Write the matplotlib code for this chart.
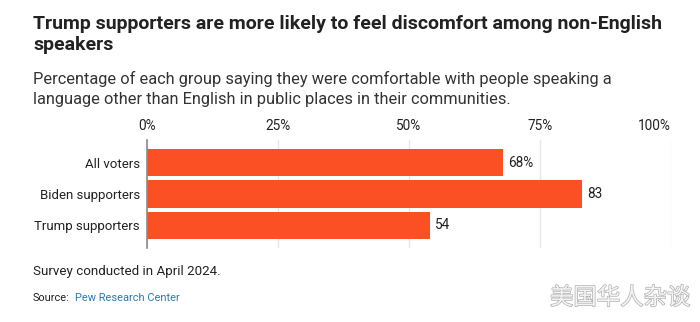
import matplotlib.pyplot as plt
from matplotlib import patheffects

# Data
groups = ["All voters", "Biden supporters", "Trump supporters"]
values = [68, 83, 54]
value_labels = ["68%", "83", "54"]
ticks = [0, 25, 50, 75, 100]
tick_labels = ["0%", "25%", "50%", "75%", "100%"]

bar_color = "#fb5023"
text_color = "#222222"
font = "Roboto"

W, H = 700, 322
fig = plt.figure(figsize=(7, 3.22), dpi=100)
renderer = fig.canvas.get_renderer()


def fit_text(s, x, y, width, size=12, **kw):
    # place text at pixel coords (from top-left) and scale it to a target pixel width
    t = fig.text(x / W, 1 - y / H, s, fontsize=size, va="center", **kw)
    w = t.get_window_extent(renderer).width
    t.set_fontsize(size * width / w)
    return t


ax = fig.add_axes([147 / W, 1 - 248 / H, 524 / W, 108 / H])

pos = list(range(len(groups)))
ax.barh(pos, values, height=0.87, color=bar_color, zorder=3)
for p, v, lab in zip(pos, values, value_labels):
    ax.text(v + 1.0, p, lab, va="center", ha="left", fontsize=9.8,
            color=text_color, family=font)

ax.set_xlim(0, 100)
ax.set_ylim(2.726, -0.726)
ax.xaxis.tick_top()
ax.set_yticks(pos)
ax.set_yticklabels(groups, family=font, fontsize=9.5, color=text_color)
ax.set_xticks(ticks)
ax.set_xticklabels(tick_labels, family=font, fontsize=9.8, color=text_color)
ax.tick_params(axis="both", length=0)
ax.tick_params(axis="x", pad=5)
ax.tick_params(axis="y", pad=5)
# last tick label sits flush right against its gridline
ax.xaxis.get_major_ticks()[-1].label2.set_horizontalalignment("right")
ax.grid(axis="x", color="#e6e6e6", linewidth=1, zorder=0)
for s in ["top", "right", "bottom"]:
    ax.spines[s].set_visible(False)
ax.spines["left"].set_color("#8a8a8a")
ax.spines["left"].set_linewidth(1.2)
ax.spines["left"].set_zorder(4)

# Titles and notes
title = fit_text("Trump supporters are more likely to feel discomfort among non-English",
                 33, 24, 627, fontweight="bold", color=text_color, family=font)
fig.text(33 / W, 1 - 45 / H, "speakers", fontweight="bold", fontsize=title.get_fontsize(),
         color=text_color, family=font, va="center")
sub = fit_text("Percentage of each group saying they were comfortable with people speaking a",
               33, 79, 575, color="#333333", family=font)
fig.text(33 / W, 1 - 100 / H,
         "language other than English in public places in their communities.",
         fontsize=sub.get_fontsize(), color="#333333", family=font, va="center")
fit_text("Survey conducted in April 2024.", 33, 272, 186, color=text_color, family=font)
src = fit_text("Source:", 33, 298, 37, color=text_color, family=font)
fig.text(75 / W, 1 - 298 / H, "Pew Research Center", fontsize=src.get_fontsize(),
         color="#2b7bb9", family=font, va="center")
wm = fit_text("美国华人杂谈", 550, 298, 140, color="#f4f4f4",
              family=["Noto Sans CJK SC", "DejaVu Sans"])
wm.set_path_effects([patheffects.withStroke(linewidth=1.0, foreground="#b0b0b0")])

fig.savefig("out.png", dpi=100, facecolor="white")
